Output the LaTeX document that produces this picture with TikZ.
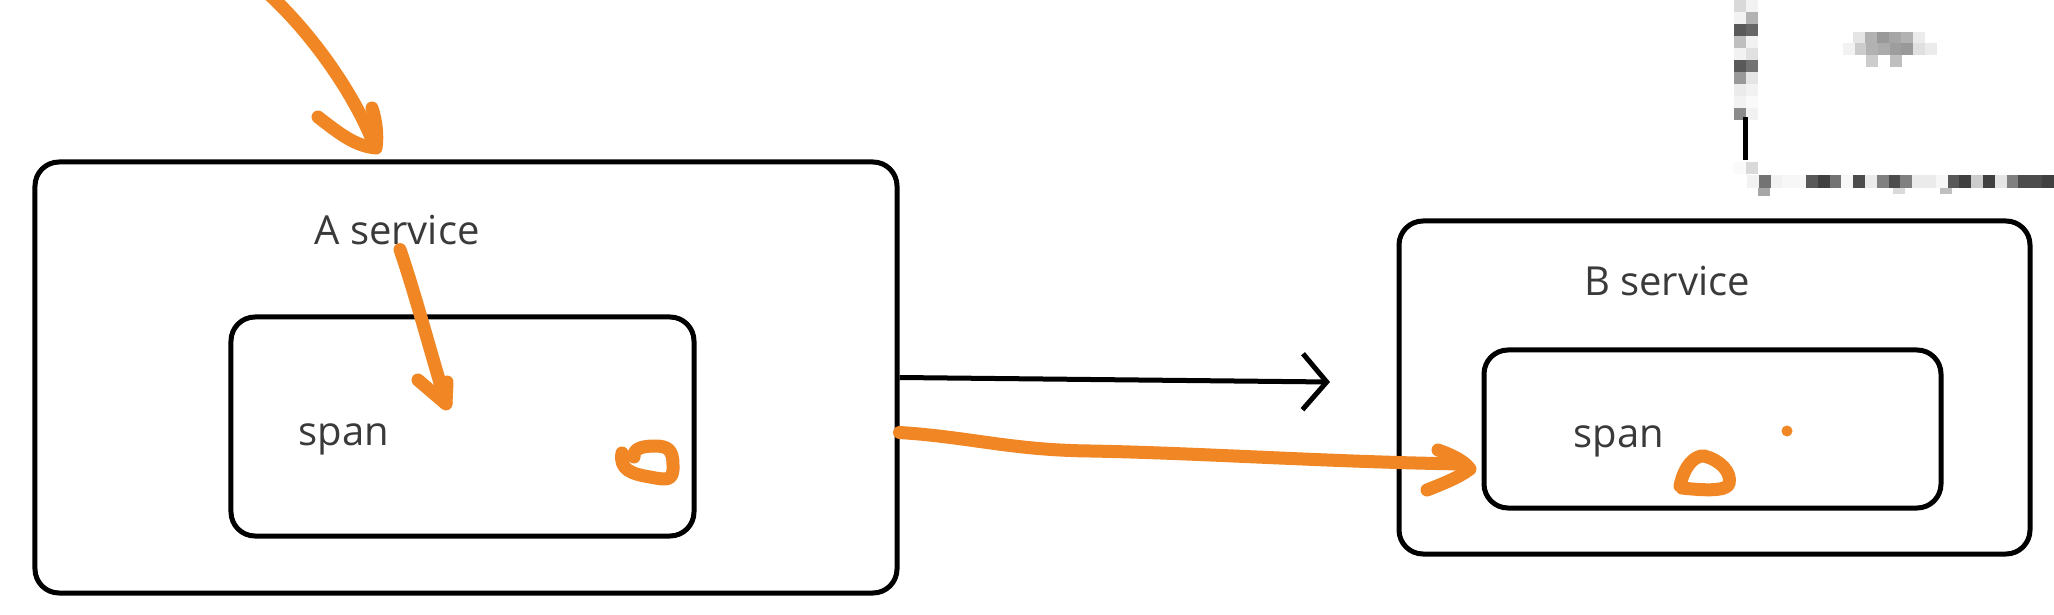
\documentclass[tikz,border=0pt]{standalone}
\usepackage{fontspec}
\setmainfont{Open Sans}
\usetikzlibrary{arrows.meta}
\definecolor{orng}{RGB}{240,134,36}
\definecolor{txt}{RGB}{58,58,58}
\tikzset{
  box/.style={draw=black, line width=5bp, rounded corners=24bp, inner sep=0pt},
  lbl/.style={font=\fontsize{40bp}{48bp}\selectfont, text=txt, inner sep=0pt, anchor=base},
  blk/.style={draw=black, line width=5bp, -{Straight Barb[length=24bp,width=56bp]}},
  pen/.style={draw=orng, line width=13bp, line cap=round, line join=round},
}
\begin{document}
\begin{tikzpicture}[x=1bp,y=-1bp]
\useasboundingbox[fill=white] (0,0) rectangle (2054,615);

% censored region top right
\foreach \y/\ga/\gb in {0/15/5,12/5/30,24/65/60,36/25/5,48/5/12,60/65/55,72/40/10,84/8/5,96/5/2,108/45/5,162/2/15}{
  \fill[black!\ga] (1734,\y) rectangle ++(12,12);
  \fill[black!\gb] (1746,\y) rectangle ++(12,12);
}
\fill[black] (1743,117) rectangle (1748,160);
\foreach \v [count=\i from 0] in {5,55,5,3,3,65,75,55,3,70,8,50,70,50,8,8,3,65,75,20,75,10,50,70,70,75}{
  \fill[black!\v] ({1747+11.8*\i},175) rectangle ++(11.8,13);
}
\fill[black!35] (1758,188) rectangle ++(12,8);
\fill[black!15] (1893,188) rectangle ++(12,6);
\fill[black!25] (1940,188) rectangle ++(12,6);
\foreach \x/\g in {1853/10,1865/30,1877/40,1889/35,1901/30,1913/8}{
  \fill[black!\g] (\x,32) rectangle ++(12,11);
}
\foreach \x/\g in {1843/5,1855/20,1866/30,1878/33,1890/38,1901/40,1913/12,1925/8}{
  \fill[black!\g] (\x,43) rectangle ++(12,12);
}
\foreach \x/\g in {1866/20,1890/25}{
  \fill[black!\g] (\x,55) rectangle ++(12,12);
}

% boxes
\node[box, minimum width=862bp, minimum height=431bp] (aout) at (466,377.5) {};
\node[box, minimum width=463bp, minimum height=219bp] (ain) at (462.5,426.5) {};
\node[box, minimum width=631bp, minimum height=333bp] (bout) at (1714.5,387.5) {};
\node[box, minimum width=457bp, minimum height=158bp] (bin) at (1712.5,429) {};

% labels
\node[lbl] (atitle) at (397,245) {A service};
\node[lbl] (aspan) at (344,445) {span};
\node[lbl] (btitle) at (1667,296) {B service};
\node[lbl] (bspan) at (1619,447) {span};

% black arrow
\coordinate (kend) at (1330,382);
\draw[blk] (aout.east) -- (kend);

% orange annotations
\coordinate (ts) at (262,-12);
\coordinate (tt) at (375,147);
\draw[pen] (ts) .. controls (308,28) and (354,92) .. (tt);
\draw[pen] (318,117) .. controls (340,134) and (355,146) .. (376,148)
           .. controls (378,135) and (376,120) .. (372,108);

\draw[pen] (atitle.south) ++(3,4) coordinate (is)
           .. controls (414,290) and (430,350) .. (446,403) coordinate (it);
\draw[pen] (418,380) -- (446,404) -- (447,382);

\coordinate (ob0) at ([yshift=-55bp]aout.east);
\coordinate (ob1) at ([xshift=-18bp,yshift=-35bp]bin.west);
\draw[pen] (ob0) .. controls (970,437) and (1010,450) .. (1090,451)
           .. controls (1200,453) and (1330,462) .. (ob1);
\draw[pen] (1438,450) .. controls (1455,456) and (1465,462) .. (1470,469)
           .. controls (1458,478) and (1442,484) .. (1427,490);

\draw[pen] (622,453) .. controls (619,470) and (632,474) .. (650,477)
           .. controls (666,480) and (674,482) .. (673,465)
           .. controls (673,450) and (668,446) .. (655,446)
           .. controls (641,446) and (633,449) .. (634,457);

\draw[pen] (1680,486) .. controls (1684,466) and (1695,455) .. (1704,456)
           .. controls (1720,460) and (1732,472) .. (1729,484)
           .. controls (1726,492) and (1700,490) .. (1682,488);

\fill[orng] (1787,431) circle (5.5);
\end{tikzpicture}
\end{document}
